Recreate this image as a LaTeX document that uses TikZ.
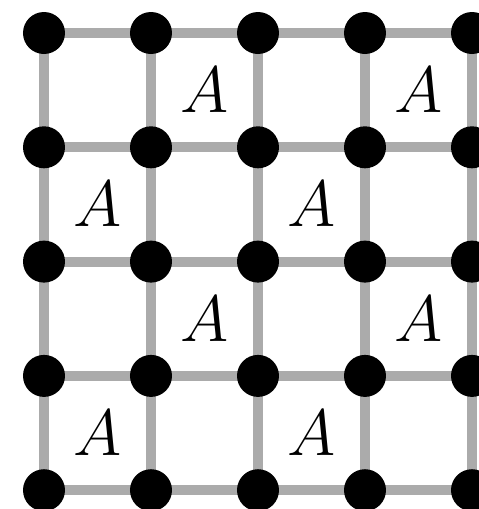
\documentclass[tikz,border=0pt]{standalone}
\usepackage{amsmath}
\usepackage{tikz}
\usetikzlibrary{positioning, backgrounds}

\begin{document}
\begin{tikzpicture}[
    x=2.14cm, y=-2.286cm,
    % Node Styles
    site/.style={circle, fill=black, minimum size=8.4mm, inner sep=0pt},
    bond/.style={draw=black!33, line width=5.7pt},
    lab/.style={inner sep=0pt, font=\Huge, scale=1.5, transform shape}
]
\useasboundingbox (-0.4112,-0.2887) rectangle (4.0654,4.1645);

% --- 1. Lattice sites ---
\foreach \i in {0,...,4}
  \foreach \j in {0,...,4}
    \node[site] (s\i\j) at (\i,\j) {};

% --- 2. Bonds ---
\begin{pgfonlayer}{background}
\foreach \i in {0,...,4} {
  \foreach \j in {0,...,3} {
    \pgfmathtruncatemacro{\k}{\j+1}
    \draw[bond] (s\i\j.center) -- (s\i\k.center);
    \draw[bond] (s\j\i.center) -- (s\k\i.center);
  }
}
\end{pgfonlayer}

% --- 3. Plaquettes ---
\foreach \c/\r in {1/0, 3/0, 0/1, 2/1, 1/2, 3/2, 0/3, 2/3}
  \node[lab] (a\c\r) at (\c+0.5,\r+0.5) {$A$};

\end{tikzpicture}
\end{document}
